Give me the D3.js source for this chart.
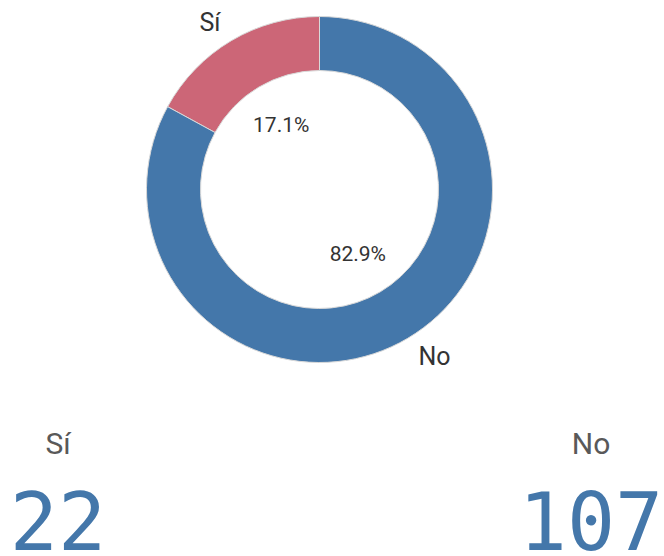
<!DOCTYPE html>
<meta charset="utf-8">
<script src="https://d3js.org/d3.v7.min.js"></script>
<style>
  body { margin: 0; background: #fff; }
</style>
<div id="my_dataviz"></div>
<script>

  // data
  var categories = ["Sí", "No"];
  var counts = [22, 107];
  var colors = ["#cc6677", "#4477aa"];

  var width = 664, height = 556;
  var cx = 319.5, cy = 189.5,
      outerR = 173, innerR = 119;

  var svg = d3.select("#my_dataviz")
    .append("svg")
      .attr("width", width)
      .attr("height", height);

  var data = categories.map(function(c, i) { return {cat: c, value: counts[i], color: colors[i]}; });
  var total = d3.sum(counts);

  // bigger slice first, clockwise from 12 o'clock
  var pie = d3.pie()
    .value(function(d) { return d.value; })
    .sort(function(a, b) { return b.value - a.value; });

  var arc = d3.arc().innerRadius(innerR).outerRadius(outerR);
  var pctArc = d3.arc().innerRadius(75).outerRadius(75);
  var outArc = d3.arc().innerRadius(194).outerRadius(194);

  var g = svg.append("g")
    .attr("transform", "translate(" + cx + "," + cy + ")");

  var arcs = pie(data);

  g.selectAll("path")
    .data(arcs)
    .enter().append("path")
      .attr("d", arc)
      .attr("fill", function(d) { return d.data.color; })
      .attr("stroke", "#d9d9d9")
      .attr("stroke-width", 1);

  // percentages inside the hole
  g.selectAll(".pct")
    .data(arcs)
    .enter().append("text")
      .attr("class", "pct")
      .attr("transform", function(d) { return "translate(" + pctArc.centroid(d) + ")"; })
      .attr("text-anchor", "middle")
      .attr("dominant-baseline", "central")
      .style("font-family", "Roboto, sans-serif")
      .style("font-size", "21px")
      .style("fill", "#333")
      .text(function(d) { return (d.data.value / total * 100).toFixed(1) + "%"; });

  // category labels outside the ring
  g.selectAll(".lbl")
    .data(arcs)
    .enter().append("text")
      .attr("class", "lbl")
      .attr("transform", function(d) { return "translate(" + outArc.centroid(d) + ")"; })
      .attr("text-anchor", function(d) { return (d.startAngle + d.endAngle) / 2 > Math.PI ? "end" : "start"; })
      .attr("dominant-baseline", "central")
      .style("font-family", "Roboto, sans-serif")
      .style("font-size", "25px")
      .style("fill", "#333")
      .text(function(d) { return d.data.cat; });

  // KPI blocks at the bottom
  var kpiX = d3.scalePoint()
    .domain(categories)
    .range([58, 591]);

  var kpi = svg.selectAll(".kpi")
    .data(data)
    .enter().append("g")
      .attr("class", "kpi")
      .attr("transform", function(d) { return "translate(" + kpiX(d.cat) + ",0)"; });

  kpi.append("text")
    .attr("y", 454)
    .attr("text-anchor", "middle")
    .style("font-family", "Roboto, sans-serif")
    .style("font-size", "30px")
    .style("fill", "#595959")
    .text(function(d) { return d.cat; });

  kpi.append("text")
    .attr("y", 550)
    .attr("text-anchor", "middle")
    .style("font-family", "'DejaVu Sans Mono', monospace")
    .style("font-size", "80px")
    .style("fill", "#4477aa")
    .text(function(d) { return d.value; });

</script>
